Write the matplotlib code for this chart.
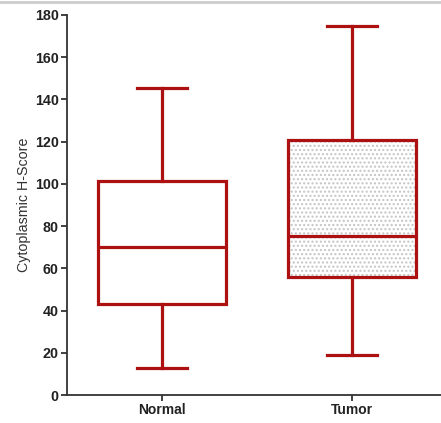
import matplotlib
matplotlib.use("Agg")
import matplotlib.pyplot as plt
from matplotlib.lines import Line2D
from matplotlib.patches import Rectangle

plt.rcParams["font.family"] = ["Liberation Sans", "DejaVu Sans"]
plt.rcParams["hatch.linewidth"] = 1.0

groups = ["Normal", "Tumor"]
whisker_low = [13, 19]
q1 = [43, 56]
median = [70, 75.5]
q3 = [101.5, 121]
whisker_high = [145.5, 175]

RED = "#ad1010"
BOX_W = 0.674

stats = [
    {"label": g, "whislo": lo, "q1": a, "med": m, "q3": b, "whishi": hi}
    for g, lo, a, m, b, hi in zip(groups, whisker_low, q1, median, q3, whisker_high)
]

fig = plt.figure(figsize=(4.41, 4.23), dpi=100)
ax = fig.add_axes([67 / 441, 28 / 423, 374 / 441, 380 / 423])

# light grey dotted fill behind the tumour box
ax.add_patch(Rectangle((2 - BOX_W / 2, q1[1]), BOX_W, q3[1] - q1[1],
                       facecolor="white", edgecolor="#c4c4c4", hatch="....",
                       linewidth=0, zorder=1))

line_kw = dict(color=RED, linewidth=2.3)
bp = ax.bxp(
    stats, positions=[1, 2], widths=BOX_W, showfliers=False, patch_artist=True,
    boxprops=dict(edgecolor=RED, linewidth=2.3, facecolor="none", zorder=2),
    medianprops=dict(line_kw, zorder=3), whiskerprops=line_kw,
    capprops=line_kw, capwidths=0.263,
)

ax.set_xlim(0.5, 2.47)
ax.set_ylim(0, 180)
ax.set_yticks(range(0, 181, 20))
ax.spines["top"].set_visible(False)
ax.spines["right"].set_visible(False)
for s in ("left", "bottom"):
    ax.spines[s].set_color("#333333")
    ax.spines[s].set_linewidth(1.3)
ax.tick_params(axis="both", colors="#333333", length=4, width=1.3, labelsize=10.3, pad=2)
ax.set_xticks([1, 2])
ax.set_xticklabels(groups, fontsize=10)
for lbl in ax.get_yticklabels() + ax.get_xticklabels():
    lbl.set_fontweight("bold")
    lbl.set_color("#222222")
ax.set_ylabel("Cytoplasmic H-Score", fontsize=10.3, color="#333333", labelpad=3)

fig.add_artist(Line2D([0, 1], [1 - 2.5 / 423] * 2, color="#cccccc", linewidth=2,
                      transform=fig.transFigure))

fig.savefig("out.png", dpi=100)
